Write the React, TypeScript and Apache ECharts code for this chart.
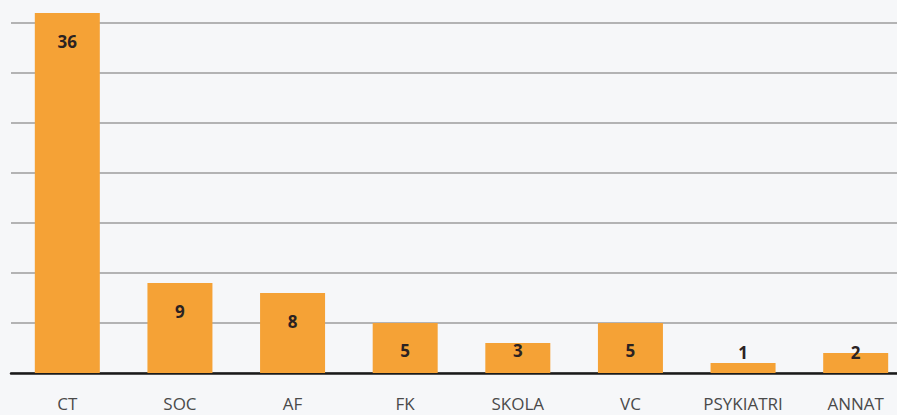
import React, { useEffect, useRef } from "react";
import * as echarts from "echarts";

const categories = ["CT", "SOC", "AF", "FK", "SKOLA", "VC", "PSYKIATRI", "ANNAT"];
const values = [36, 9, 8, 5, 3, 5, 1, 2];
const yTicks = { min: 0, max: 40, interval: 5 };

export default function App() {
  const ref = useRef<HTMLDivElement>(null);
  useEffect(() => {
    if (!ref.current) return;
    const chart = echarts.init(ref.current, null, { renderer: "svg" });
    const data = values.map((v) => ({
      value: v,
      label:
        v <= 5
          ? { position: "insideBottom", distance: v <= 2 ? 12 : 14 }
          : { position: "insideTop", distance: 20 },
    }));
    chart.setOption({
      animation: false,
      backgroundColor: "#f6f7f9",
      grid: {
        left: 11,
        top: -27,
        width: 901,
        height: 400,
        containLabel: false,
        outerBoundsMode: "none",
      },
      xAxis: {
        type: "category",
        data: categories,
        axisLine: { show: true, lineStyle: { color: "#1a1a1a", width: 2.5 } },
        axisTick: { show: false },
        axisLabel: {
          margin: 22,
          fontSize: 17,
          color: "#4a4a4a",
          fontFamily: "Open Sans",
        },
      },
      yAxis: {
        type: "value",
        min: yTicks.min,
        max: yTicks.max,
        interval: yTicks.interval,
        axisLabel: { show: false },
        axisLine: { show: false },
        axisTick: { show: false },
        splitLine: { lineStyle: { color: "#9c9c9c", width: 1.5 } },
      },
      series: [
        {
          type: "bar",
          data,
          barWidth: 65,
          itemStyle: { color: "#f5a236" },
          label: {
            show: true,
            fontSize: 17,
            fontWeight: "bold",
            color: "#2b2222",
            fontFamily: "Open Sans",
          },
        },
      ],
    });
    return () => chart.dispose();
  }, []);
  return (
    <div
      ref={ref}
      style={{ position: "fixed", left: 0, top: 0, width: 897, height: 415 }}
    />
  );
}
